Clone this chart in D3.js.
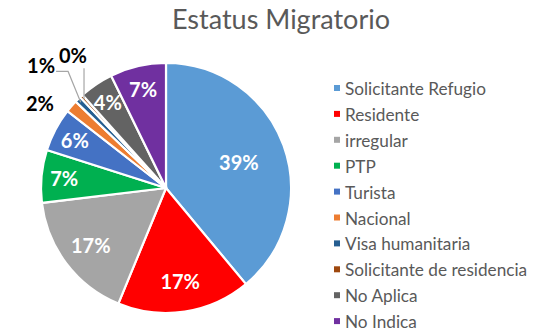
<!DOCTYPE html>
<html>
<head>
<meta charset="utf-8">
<script src="https://cdn.jsdelivr.net/npm/d3@7"></script>
<style>
  html, body { margin: 0; padding: 0; background: #fff; }
  svg { display: block; font-family: Lato, "Open Sans", sans-serif; }
</style>
</head>
<body>
<svg id="chart" width="533" height="331"></svg>
<script>
// Migration status of respondents (counts)
const title = "Estatus Migratorio";
const categories = [
  "Solicitante Refugio", "Residente", "irregular", "PTP", "Turista",
  "Nacional", "Visa humanitaria", "Solicitante de residencia", "No Aplica", "No Indica"
];
const counts = [97, 43, 42, 17, 14, 4, 2, 1, 11, 18];
const colors = [
  "#5B9BD5", "#FF0000", "#A5A5A5", "#00B050", "#4472C4",
  "#ED7D31", "#255E91", "#9E480E", "#636363", "#7030A0"
];

const svg = d3.select("#chart");
const cx = 166, cy = 188, radius = 125;
const textGrey = "#595959";

const total = d3.sum(counts);
const pct = v => Math.round(v / total * 100) + "%";

const data = categories.map((c, i) => ({ name: c, value: counts[i], color: colors[i] }));
const arcs = d3.pie().sort(null).value(d => d.value)(data);
const arc = d3.arc().innerRadius(0).outerRadius(radius);

// Title
svg.append("text")
  .attr("x", 281).attr("y", 29)
  .attr("text-anchor", "middle")
  .attr("fill", textGrey)
  .attr("font-size", 27)
  .text(title);

// Slices
const g = svg.append("g").attr("transform", `translate(${cx},${cy})`);
g.selectAll("path.slice")
  .data(arcs)
  .join("path")
  .attr("class", "slice")
  .attr("d", arc)
  .attr("fill", d => d.data.color)
  .attr("stroke", "#fff")
  .attr("stroke-width", 2.2)
  .attr("stroke-linejoin", "miter");

// Polar helper: angle measured clockwise from 12 o'clock
const polar = (a, r) => [Math.sin(a) * r, -Math.cos(a) * r];
const labelFont = 20;

// Inside labels: narrower slices push their label toward the rim
const insideArcs = arcs.filter(d => d.value / total >= 0.025);
insideArcs.forEach(d => {
  const sweep = (d.endAngle - d.startAngle) * 180 / Math.PI;
  const k = 0.62 + 0.24 * (1 - Math.min(1, sweep / 140));
  const mid = (d.startAngle + d.endAngle) / 2;
  const [x, y] = polar(mid, radius * k);
  g.append("text")
    .attr("x", x).attr("y", y)
    .attr("text-anchor", "middle")
    .attr("dominant-baseline", "central")
    .attr("fill", "#fff")
    .attr("font-weight", "bold")
    .attr("font-size", labelFont)
    .text(pct(d.value));
});

// Outside labels for the thin slices, spread apart angularly
const outsideArcs = arcs.filter(d => d.value / total < 0.025);
const outsideGap = [27, 50, 37];
const spreadStep = 10.5 * Math.PI / 180;
const mids = outsideArcs.map(d => (d.startAngle + d.endAngle) / 2);
const meanMid = d3.mean(mids);
outsideArcs.forEach((d, i) => {
  const mid = mids[i];
  const a = meanMid + (i - (outsideArcs.length - 1) / 2) * spreadStep;
  const [x, y] = polar(a, radius + outsideGap[i]);
  const t = g.append("text")
    .attr("x", x).attr("y", y)
    .attr("text-anchor", "middle")
    .attr("dominant-baseline", "central")
    .attr("fill", "#000")
    .attr("font-weight", "bold")
    .attr("font-size", labelFont)
    .text(pct(d.value));
  if (outsideGap[i] > 30) {
    const bb = t.node().getBBox();
    const [rx, ry] = polar(mid, radius - 4);
    let path;
    if (rx >= bb.x && rx <= bb.x + bb.width) {
      path = `M${rx},${bb.y + bb.height + 1}L${rx},${ry}`;
    } else {
      const sx = bb.x + bb.width + 1, sy = y + 6;
      path = `M${sx},${sy}H${sx + 12}L${rx},${ry}`;
    }
    g.append("path")
      .attr("d", path)
      .attr("fill", "none")
      .attr("stroke", "#A6A6A6")
      .attr("stroke-width", 1.2);
  }
});

// Legend
const legend = svg.append("g").attr("transform", "translate(334,88)");
const rowStep = 25.9;
const rows = legend.selectAll("g.row")
  .data(data)
  .join("g")
  .attr("class", "row")
  .attr("transform", (d, i) => `translate(0,${i * rowStep})`);
rows.append("rect")
  .attr("x", 0).attr("y", -3)
  .attr("width", 6).attr("height", 6)
  .attr("fill", d => d.color);
rows.append("text")
  .attr("x", 11).attr("y", 0.5)
  .attr("dominant-baseline", "central")
  .attr("fill", textGrey)
  .attr("font-size", 17.2)
  .text(d => d.name);
</script>
</body>
</html>
